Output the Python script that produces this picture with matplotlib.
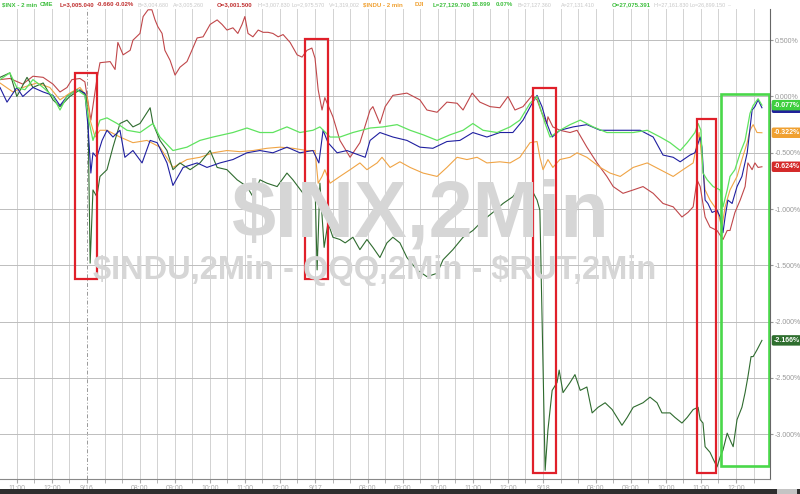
import matplotlib
matplotlib.use('Agg')
import matplotlib.pyplot as plt
from matplotlib.patches import Rectangle
import numpy as np

plt.rcParams['font.family'] = ['Liberation Sans', 'DejaVu Sans']

# time axis = trading hours since 9/13 06:30 PT (one session = 6.5 h)
# values = % change

red_t = [4.02, 4.30, 4.67, 4.96, 5.25, 5.53, 5.73, 5.93, 6.07, 6.30, 6.44, 6.61, 6.78, 6.87,
         7.16, 7.30, 7.38, 7.53, 7.73, 7.81, 8.01, 8.10, 8.24, 8.35, 8.44, 8.52, 8.64, 8.72,
         8.87, 9.01, 9.15, 9.35, 9.49, 9.64, 9.81, 10.01, 10.21, 10.35, 10.49, 10.66, 10.80,
         10.92, 11.00, 11.09, 11.23, 11.38, 11.52, 11.66, 11.80, 11.95, 12.09, 12.29, 12.49,
         12.63, 12.77, 12.91, 13.00, 13.09, 13.20, 13.28, 13.51, 13.71, 14.00, 14.28, 14.57,
         14.65, 14.85, 15.00, 15.22, 15.62, 15.99, 16.19, 16.48, 16.76, 17.05, 17.22, 17.48,
         17.70, 17.99, 18.27, 18.50, 18.70, 18.93, 19.19, 19.33, 19.47, 19.61, 19.64, 19.78,
         19.98, 20.27, 20.47, 20.75, 21.04, 21.32, 21.50, 21.78, 22.07, 22.35, 22.64, 22.92,
         23.21, 23.46, 23.63, 23.78, 23.89, 23.98, 24.12, 24.26, 24.46, 24.63, 24.75, 24.83,
         24.97, 25.12, 25.26, 25.34, 25.46, 25.54, 25.63, 25.74]
red_v = [0.15, 0.16, 0.11, 0.18, 0.17, 0.11, 0.04, 0.08, 0.15, 0.16, 0.13, -0.21, 0.15, 0.30,
         0.31, 0.24, 0.48, 0.37, 0.41, 0.50, 0.56, 0.71, 0.77, 0.77, 0.68, 0.62, 0.56, 0.41,
         0.32, 0.19, 0.26, 0.31, 0.41, 0.52, 0.53, 0.64, 0.68, 0.64, 0.59, 0.61, 0.56,
         0.64, 0.71, 0.56, 0.53, 0.59, 0.57, 0.57, 0.56, 0.53, 0.55, 0.48, 0.37,
         0.35, 0.41, 0.43, 0.34, 0.06, -0.12, -0.01, -0.18, -0.39, -0.54, -0.41, -0.12,
         -0.09, -0.24, -0.09, 0.01, 0.03, -0.03, -0.12, -0.14, -0.05, -0.06, -0.12, 0.03,
         -0.05, -0.09, -0.10, 0.00, -0.12, -0.09, 0.01, -0.03, -0.15, -0.24, -0.18, -0.27,
         -0.30, -0.32, -0.30, -0.45, -0.59, -0.71, -0.80, -0.86, -0.83, -0.80, -0.86, -0.95,
         -0.98, -1.07, -1.03, -0.98, -0.74, -0.80, -1.07, -1.16, -1.19, -1.27, -1.19, -1.19,
         -1.03, -0.92, -0.80, -0.59, -0.65, -0.59, -0.63, -0.624]

inx_t = [4.02, 4.30, 4.50, 4.73, 4.96, 5.25, 5.53, 5.73, 5.93, 6.21, 6.44, 6.53, 6.67, 6.87,
         7.07, 7.36, 7.64, 8.01, 8.38, 8.58, 8.95, 9.35, 9.72, 10.09, 10.66, 11.06, 11.43,
         11.80, 12.20, 12.57, 12.94, 13.14, 13.43, 13.71, 14.08, 14.57, 14.94, 15.34, 15.71,
         16.08, 16.48, 16.85, 17.22, 17.50, 17.79, 18.19, 18.56, 18.84, 19.13, 19.33, 19.41,
         19.56, 19.70, 19.98, 20.27, 20.56, 20.93, 21.32, 21.70, 22.07, 22.47, 22.84, 23.12,
         23.41, 23.61, 23.83, 23.92, 24.00, 24.06, 24.18, 24.35, 24.55, 24.63, 24.75, 24.83,
         24.97, 25.12, 25.26, 25.40, 25.49, 25.63, 25.74]
inx_v = [0.15, 0.21, 0.08, 0.06, 0.15, 0.08, 0.00, -0.12, 0.00, 0.06, 0.01, -0.18, -0.39, -0.21,
         -0.19, -0.24, -0.30, -0.32, -0.24, -0.36, -0.48, -0.45, -0.39, -0.36, -0.32, -0.28, -0.32,
         -0.32, -0.27, -0.32, -0.30, -0.27, -0.36, -0.36, -0.32, -0.28, -0.27, -0.25, -0.30,
         -0.34, -0.39, -0.34, -0.30, -0.24, -0.30, -0.32, -0.27, -0.21, -0.06, 0.00, -0.09,
         -0.24, -0.36, -0.30, -0.25, -0.21, -0.27, -0.32, -0.32, -0.32, -0.30, -0.36, -0.41,
         -0.48, -0.41, -0.32, -0.24, -0.30, -0.68, -0.74, -0.80, -0.83, -0.98, -0.83, -0.71,
         -0.65, -0.50, -0.39, -0.15, -0.08, -0.02, -0.077]

blue_t = [4.02, 4.22, 4.50, 4.67, 4.96, 5.25, 5.53, 5.73, 5.93, 6.21, 6.44, 6.53, 6.61, 6.67,
          6.78, 6.93, 7.07, 7.24, 7.44, 7.58, 7.81, 8.07, 8.30, 8.50, 8.78, 8.95, 9.24, 9.64,
          9.92, 10.29, 10.66, 11.06, 11.43, 11.80, 12.20, 12.57, 12.94, 13.11, 13.23, 13.37,
          13.63, 13.91, 14.08, 14.43, 14.57, 14.85, 15.22, 15.62, 15.99, 16.36, 16.76, 17.13,
          17.50, 17.90, 18.27, 18.64, 18.93, 19.19, 19.33, 19.47, 19.61, 19.76, 19.98, 20.36,
          20.75, 21.13, 21.50, 21.90, 22.27, 22.64, 22.92, 23.21, 23.41, 23.69, 23.83, 23.98,
          24.03, 24.12, 24.20, 24.32, 24.46, 24.55, 24.63, 24.69, 24.77, 24.89, 25.03, 25.17,
          25.32, 25.46, 25.54, 25.63, 25.74]
blue_v = [0.08, -0.05, 0.08, 0.00, 0.08, 0.04, 0.01, -0.08, 0.00, 0.06, 0.03, -0.27, -0.68, -0.50,
          -0.54, -0.39, -0.30, -0.36, -0.30, -0.54, -0.48, -0.59, -0.39, -0.41, -0.59, -0.79, -0.63, -0.59,
          -0.63, -0.59, -0.56, -0.50, -0.48, -0.50, -0.45, -0.50, -0.48, -0.59, -0.30, -0.41,
          -0.50, -0.48, -0.50, -0.54, -0.39, -0.32, -0.36, -0.39, -0.45, -0.46, -0.40, -0.39,
          -0.32, -0.36, -0.32, -0.32, -0.21, -0.06, 0.01, -0.09, -0.24, -0.36, -0.30, -0.27,
          -0.25, -0.30, -0.30, -0.30, -0.30, -0.36, -0.52, -0.54, -0.58, -0.52, -0.50, -0.36,
          -0.45, -0.92, -0.95, -1.03, -1.01, -1.07, -1.21, -1.07, -0.92, -0.95, -0.80, -0.71,
          -0.50, -0.12, -0.09, -0.03, -0.10]

indu_t = [4.02, 4.39, 4.67, 5.07, 5.44, 5.73, 6.01, 6.30, 6.50, 6.59, 6.73, 6.87, 7.07, 7.44,
          7.81, 8.21, 8.58, 8.95, 9.35, 9.72, 10.09, 10.49, 10.86, 11.23, 11.63, 12.00, 12.37,
          12.77, 13.00, 13.09, 13.20, 13.28, 13.43, 13.71, 14.00, 14.28, 14.48, 14.77, 14.91,
          15.14, 15.42, 15.71, 16.08, 16.48, 16.76, 17.05, 17.33, 17.62, 17.90, 18.27, 18.56,
          18.84, 19.13, 19.33, 19.41, 19.50, 19.64, 19.78, 19.98, 20.27, 20.47, 20.75, 21.13,
          21.41, 21.70, 22.07, 22.47, 22.84, 23.21, 23.49, 23.78, 23.95, 24.03, 24.12, 24.26,
          24.46, 24.60, 24.69, 24.83, 25.03, 25.17, 25.32, 25.40, 25.49, 25.60, 25.74]
indu_v = [0.12, 0.04, 0.08, 0.12, 0.08, -0.03, 0.03, 0.08, 0.00, -0.21, -0.36, -0.30, -0.30, -0.36,
          -0.41, -0.39, -0.45, -0.63, -0.56, -0.54, -0.50, -0.48, -0.49, -0.48, -0.46, -0.45, -0.46,
          -0.48, -0.48, -0.77, -0.71, -0.65, -0.77, -0.71, -0.65, -0.59, -0.65, -0.59, -0.54,
          -0.63, -0.58, -0.63, -0.68, -0.71, -0.63, -0.54, -0.56, -0.54, -0.59, -0.58, -0.59,
          -0.54, -0.41, -0.40, -0.54, -0.65, -0.56, -0.63, -0.56, -0.54, -0.50, -0.54, -0.63,
          -0.68, -0.71, -0.63, -0.59, -0.65, -0.71, -0.65, -0.59, -0.32, -0.56, -0.83, -0.92,
          -1.01, -1.16, -0.98, -0.83, -0.71, -0.56, -0.41, -0.30, -0.25, -0.32, -0.322]

dkg_t = [4.02, 4.30, 4.50, 4.79, 4.96, 5.25, 5.53, 5.73, 6.01, 6.30, 6.47, 6.53, 6.59, 6.67,
         6.78, 6.87, 7.07, 7.24, 7.44, 7.64, 7.81, 8.01, 8.30, 8.38, 8.58, 8.78, 8.95, 9.15,
         9.44, 9.72, 10.01, 10.21, 10.49, 10.78, 11.06, 11.23, 11.43, 11.63, 11.92, 12.20,
         12.37, 12.66, 12.86, 13.00, 13.06, 13.14, 13.26, 13.37, 13.51, 13.71, 13.86, 14.08,
         14.28, 14.48, 14.65, 14.85, 15.05, 15.22, 15.42, 15.62, 15.91, 16.19, 16.48, 16.65,
         16.93, 17.22, 17.50, 17.79, 18.07, 18.36, 18.64, 18.93, 19.13, 19.33, 19.41, 19.56,
         19.64, 19.76, 19.90, 19.96, 20.07, 20.27, 20.41, 20.56, 20.75, 20.90, 21.07, 21.27,
         21.47, 21.61, 21.75, 21.90, 22.07, 22.35, 22.55, 22.75, 22.89, 23.12, 23.26, 23.46,
         23.61, 23.78, 23.92, 23.98, 24.06, 24.12, 24.26, 24.35, 24.46, 24.55, 24.63, 24.75,
         24.86, 24.92, 25.03, 25.17, 25.26, 25.34, 25.43, 25.49, 25.60, 25.74]
dkg_v = [0.17, 0.21, 0.00, 0.17, 0.08, 0.12, -0.03, -0.09, 0.00, 0.06, 0.01, -0.18, -1.48, -0.83,
         -0.89, -0.71, -0.65, -0.45, -0.24, -0.21, -0.27, -0.24, -0.10, -0.24, -0.39, -0.48, -0.65, -0.59,
         -0.65, -0.59, -0.48, -0.63, -0.65, -0.74, -0.80, -0.89, -0.74, -0.77, -0.80, -0.68,
         -0.74, -0.86, -0.77, -0.77, -1.54, -0.77, -1.34, -1.12, -1.25, -1.27, -1.30, -1.25,
         -1.36, -1.27, -1.34, -1.43, -1.30, -1.25, -1.30, -1.43, -1.54, -1.60, -1.57, -1.45,
         -1.36, -1.25, -1.19, -1.10, -1.03, -0.95, -0.89, -0.77, -0.80, -0.92, -1.01, -3.32,
         -2.96, -2.61, -2.54, -2.43, -2.63, -2.54, -2.47, -2.61, -2.58, -2.81, -2.76, -2.72,
         -2.78, -2.85, -2.92, -2.85, -2.76, -2.72, -2.67, -2.72, -2.81, -2.81, -2.85, -2.90,
         -2.85, -2.78, -2.76, -2.87, -2.90, -3.11, -3.16, -3.22, -3.29, -3.20, -3.14, -2.99,
         -3.07, -3.11, -2.87, -2.76, -2.63, -2.49, -2.31, -2.31, -2.25, -2.166]

tags = ['-0.624%', '-0.077%', '-0.103%', '-0.322%', '-2.166%']

# x ticks (hours) and labels
tick_h = [4.5, 5.5, 6.5, 8.0, 9.0, 10.0, 11.0, 12.0, 13.0, 14.5, 15.5, 16.5, 17.5, 18.5,
          19.5, 21.0, 22.0, 23.0, 24.0, 25.0]
tick_lab = ['11:00', '12:00', '9/16', '08:00', '09:00', '10:00', '11:00', '12:00', '9/17',
            '08:00', '09:00', '10:00', '11:00', '12:00', '9/18', '08:00', '09:00', '10:00',
            '11:00', '12:00']

# highlight windows: (t0, t1, v_top, v_bottom)
red_boxes = [(6.16, 6.78, 0.21, -1.62), (12.71, 13.37, 0.51, -1.62),
             (19.22, 19.87, 0.075, -3.34), (23.89, 24.43, -0.20, -3.34)]
green_box = (24.58, 25.94, 0.02, -3.28)

fig = plt.figure(figsize=(8, 4.94), dpi=100)
ax = fig.add_axes([0, 15/494, 770/800, 470/494])
ax.set_xlim(4.02, 25.97)
ax.set_ylim(-3.397, 0.777)

# grid
for h in np.arange(4.5, 26, 0.5):
    if h == 6.5:
        ax.axvline(h, color='#999999', lw=0.7, ls=(0, (4, 2, 1, 2)), zorder=0)
    else:
        ax.axvline(h, color='#d2d2d2', lw=0.7, zorder=0)
for v in np.arange(-3.0, 0.51, 0.5):
    ax.axhline(v, color='#bdbdbd', lw=0.7, zorder=0)

# watermark
fig.text(421/800, 1 - 216/494, r'\$INX,2Min', fontsize=57, weight='bold', color='#d6d6d6',
         ha='center', va='center', zorder=0)
fig.text(375/800, 1 - 271/494, r'\$INDU,2Min - QQQ,2Min - \$RUT,2Min', fontsize=23.5, weight='bold',
         color='#d6d6d6', ha='center', va='center', zorder=0)

ax.plot(red_t, red_v, color='#c0474a', lw=0.8, zorder=3)
ax.plot(indu_t, indu_v, color='#f0a445', lw=0.8, zorder=3)
ax.plot(dkg_t, dkg_v, color='#2f6b2f', lw=0.8, zorder=3)
ax.plot(blue_t, blue_v, color='#1f1fa0', lw=0.8, zorder=4)
ax.plot(inx_t, inx_v, color='#5fe35f', lw=0.9, zorder=4)

for t0, t1, v0, v1 in red_boxes:
    ax.add_patch(Rectangle((t0, v1), t1 - t0, v0 - v1, fill=False, ec='#e0202a', lw=1.6, zorder=6))
t0, t1, v0, v1 = green_box
ax.add_patch(Rectangle((t0, v1), t1 - t0, v0 - v1, fill=False, ec='#4ad84a', lw=1.9, zorder=6))

# axes styling
for s in ['left', 'top']:
    ax.spines[s].set_visible(False)
ax.spines['right'].set_color('#666666')
ax.spines['bottom'].set_color('#888888')
ax.spines['right'].set_linewidth(0.8)
ax.spines['bottom'].set_linewidth(0.8)

ax.yaxis.tick_right()
yt = np.arange(-3.0, 0.51, 0.5)
ax.set_yticks(yt)
ax.set_yticklabels(['%.3f%%' % v for v in yt])
ax.tick_params(axis='y', labelsize=5, colors='#999999', length=2, pad=1.5)

ax.set_xticks(tick_h)
ax.set_xticklabels(tick_lab)
ax.set_xticks(np.arange(4.5, 26, 0.5), minor=True)
ax.tick_params(axis='x', labelsize=5, colors='#aaaaaa', length=3, pad=1.0)
ax.tick_params(axis='x', which='minor', length=3, color='#aaaaaa')

# value tags on right
last = [(red_v[-1], '#d42a2a', tags[0]), (blue_v[-1], '#20209a', tags[2]),
        (inx_v[-1], '#3fcf3f', tags[1]), (indu_v[-1], '#f0a030', tags[3]),
        (dkg_v[-1], '#2e6e2e', tags[4])]
for v, c, s in last:
    ax.annotate(s, xy=(1, v), xycoords=('axes fraction', 'data'), xytext=(2.5, 0),
                textcoords='offset points', ha='left', va='center', fontsize=5, color='white',
                weight='bold', bbox=dict(boxstyle='round,pad=0.25', fc=c, ec='none'),
                annotation_clip=False, zorder=10)

# header line
hdr = [(2, r'\$INX - 2 min', '#3fbf3f', 'bold'), (40, 'CME', '#3fbf3f', 'bold'),
       (60, 'L=3,005.040', '#c03030', 'bold'), (97, '-0.660', '#c03030', 'bold'),
       (115, '-0.02%', '#c03030', 'bold'), (138, 'B=3,004.680', '#c8c8c8', 'normal'),
       (173, 'A=3,005.260', '#c8c8c8', 'normal'), (217, 'O=3,001.500', '#c03030', 'bold'),
       (257, 'Hi=3,007.830', '#c8c8c8', 'normal'), (292, 'Lo=2,975.570', '#c8c8c8', 'normal'),
       (329, 'V=1,319,002', '#c8c8c8', 'normal'), (363, r'\$INDU - 2 min', '#f0a030', 'bold'),
       (415, 'DJI', '#f0a030', 'bold'), (433, 'L=27,129.700', '#3fbf3f', 'bold'),
       (472, '18.899', '#3fbf3f', 'bold'), (496, '0.07%', '#3fbf3f', 'bold'),
       (518, 'B=27,127.360', '#c8c8c8', 'normal'), (561, 'A=27,131.410', '#c8c8c8', 'normal'),
       (612, 'O=27,075.391', '#3fbf3f', 'bold'), (653, 'Hi=27,161.830', '#c8c8c8', 'normal'),
       (690, 'Lo=26,899.150', '#c8c8c8', 'normal'), (728, '...', '#c8c8c8', 'normal')]
for x, s, c, w in hdr:
    fs = 4.4 if w == 'bold' else 3.9
    fig.text(x/800, 1 - 5/494, s, fontsize=fs, color=c, weight=w, ha='left', va='center')

# scroll bar at bottom
fig.patches.append(Rectangle((0, 0), 1, 5/494, transform=fig.transFigure, fc='#2e2e2e', ec='none'))
fig.patches.append(Rectangle((777/800, 0), 20/800, 5/494, transform=fig.transFigure, fc='#c4c4c4', ec='none'))

fig.savefig('out.png', dpi=100)
